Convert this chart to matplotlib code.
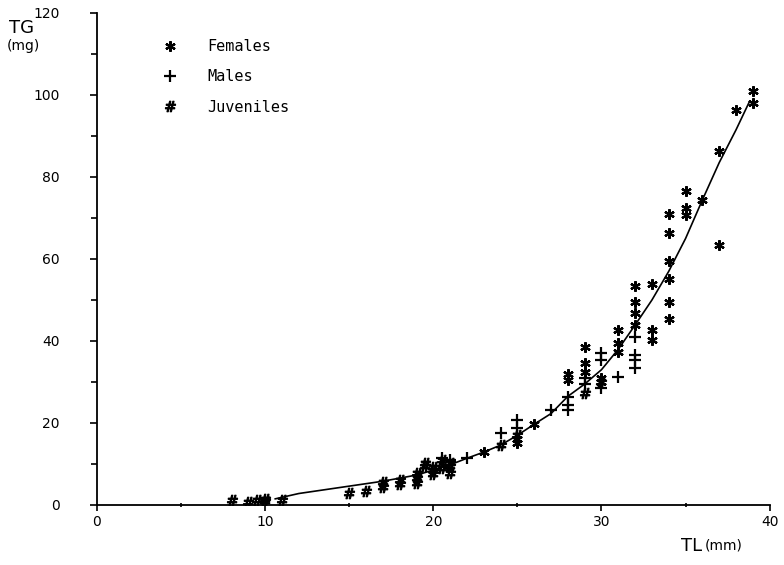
import matplotlib.pyplot as plt
import numpy as np

# TL (mm) vs TG (mg) for each group
fem_tl = [39, 39, 38, 37, 37, 36, 35, 35, 35, 34, 34, 34, 34, 34, 34, 33, 33, 33,
          32, 32, 32, 32, 31, 31, 31, 30, 30, 29, 29, 29, 28, 28, 26, 25, 25, 23]
fem_tg = [101, 98, 96.3, 86.4, 63.4, 74.4, 76.7, 72.4, 70.7, 71, 66.4, 59.5, 55, 49.6, 45.3, 54, 42.7, 40.2,
          53.4, 49.6, 46.8, 44, 42.7, 39.4, 37.4, 31, 30, 38.5, 34.6, 32.5, 32, 30.5, 19.7, 16, 15, 13]

male_tl = [32, 32, 32, 32, 31, 30, 30, 30, 29, 29, 28, 28, 28, 27, 25, 25, 24, 22, 21, 20.5]
male_tg = [41, 36.6, 35.4, 33.3, 31.3, 37, 35.4, 28.5, 31, 29.5, 26.4, 24.4, 23.2, 23.2, 20.7, 18.7, 17.6, 11.4, 11, 11.5]

juv_tl = [8, 9, 9.5, 10, 10, 11, 15, 16, 17, 17, 18, 18, 19, 19, 19, 19.5, 19.5, 20, 20, 20,
          20.5, 20.5, 21, 21, 21, 24, 25, 29, 30]
juv_tg = [1.2, 0.8, 1.2, 1.4, 0.9, 1.3, 3, 3.5, 4.5, 5.5, 5.2, 6.1, 5.3, 6.5, 7.7, 9.5, 10.2, 7.5, 8.5, 9.3,
          9, 11, 7.7, 9.5, 10.2, 14.6, 17, 27.2, 30.1]

# fitted curve, read along its path
fit_tl = [10.6, 12, 15, 17, 19, 20.4, 21, 22, 23, 24, 25, 26, 27, 28, 29, 30, 31, 32, 33, 34, 35, 36, 37, 38, 38.8]
fit_tg = [1.5, 2.8, 4.6, 5.8, 7.3, 9.0, 9.8, 11.4, 12.9, 14.6, 17, 19.7, 22.3, 26.5, 29.5, 33, 38, 43.9, 50,
          57, 65, 74.4, 83.5, 91.5, 98.4]

fig = plt.figure(figsize=(7.84, 5.65), dpi=100)
ax = fig.add_axes([0.1237, 0.1062, 0.858, 0.8708])

ast = (6, 2, 0)
ax.plot(fit_tl, fit_tg, color='black', lw=1.2)
ax.plot(fem_tl, fem_tg, ls='none', marker=ast, ms=7.5, mew=1.6, color='black', label='Females')
ax.plot(male_tl, male_tg, ls='none', marker='+', ms=8.5, mew=1.6, color='black', label='Males')
ax.plot(juv_tl, juv_tg, ls='none', marker=r'$\#$', ms=7.5, mew=0.9, color='black', label='Juveniles')

ax.set_xlim(0, 40)
ax.set_ylim(0, 120)
ax.set_xticks([0, 10, 20, 30, 40])
ax.set_xticks(np.arange(0, 41, 5), minor=True)
ax.set_yticks([0, 20, 40, 60, 80, 100, 120])
ax.set_yticks(np.arange(0, 121, 10), minor=True)
ax.spines['top'].set_visible(False)
ax.spines['right'].set_visible(False)
ax.spines['left'].set_linewidth(1.3)
ax.spines['bottom'].set_linewidth(1.3)
ax.tick_params(axis='both', which='both', labelsize=10, width=1.2)
ax.tick_params(axis='y', which='major', length=5, pad=22)
ax.tick_params(axis='y', which='minor', length=4)
ax.tick_params(axis='x', which='major', length=4, pad=3)
ax.tick_params(axis='x', which='minor', length=3, direction='inout')

fig.text(0.011, 0.934, 'TG', fontsize=13, va='bottom')
fig.text(0.009, 0.918, '(mg)', fontsize=10, va='center')
fig.text(0.868, 0.018, 'TL', fontsize=13, va='bottom')
fig.text(0.899, 0.022, '(mm)', fontsize=10, va='bottom')

ax.legend(loc='upper left', bbox_to_anchor=(0.075, 0.975), frameon=False,
          prop={'family': 'DejaVu Sans Mono', 'size': 11}, handletextpad=1.8,
          labelspacing=1.0, handlelength=1.2)

fig.savefig('out.png', dpi=100)
